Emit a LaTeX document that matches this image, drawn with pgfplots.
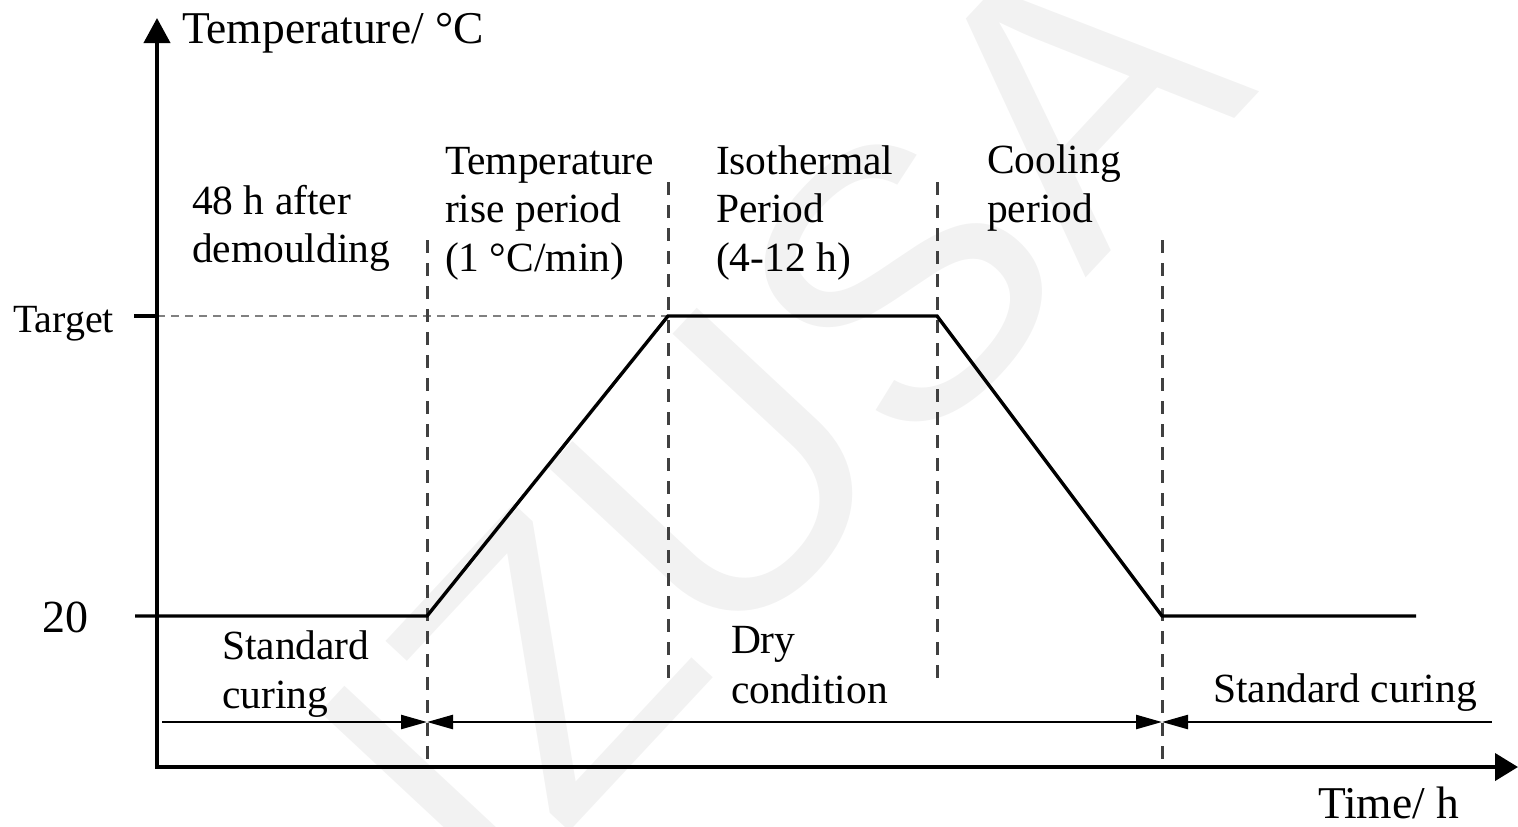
\documentclass[border=0pt]{standalone}
\usepackage{pgfplots}
\pgfplotsset{compat=1.18}
\usepackage{fontspec}
\setmainfont{Liberation Serif}
\newfontfamily\wmfont{Liberation Sans}
\usetikzlibrary{arrows.meta}
\definecolor{dashgray}{RGB}{64,64,64}
\definecolor{tgray}{RGB}{128,128,128}
\definecolor{wm}{RGB}{242,242,242}
\newcommand\ann{\fontsize{20.75pt}{24.5pt}\selectfont}
\newcommand\lab{\fontsize{22.75pt}{27pt}\selectfont}
\tikzset{t/.style={anchor=base west, inner sep=0pt, outer sep=0pt}}
\begin{document}
\begin{tikzpicture}
\begin{axis}[
  width=759pt, height=413pt, scale only axis,
  xmin=0, xmax=1518, ymin=0, ymax=826, y dir=reverse,
  hide axis, clip=false,
]
% watermark
\node[rotate=47, text=wm, inner sep=0pt, font=\wmfont\fontsize{192pt}{192pt}\selectfont, anchor=center] at (axis cs:778,415) {IZUSA};

% target dashed reference line
\addplot[tgray, line width=0.8pt, dash pattern=on 4pt off 3pt, mark=none] coordinates {(157,316) (668,316)};

% vertical dashed period boundaries
\addplot[dashgray, line width=1.5pt, dash pattern=on 6.5pt off 5pt, mark=none] coordinates {(427,240) (427,767)};
\addplot[dashgray, line width=1.5pt, dash pattern=on 6.5pt off 5pt, mark=none] coordinates {(668,182) (668,683)};
\addplot[dashgray, line width=1.5pt, dash pattern=on 6.5pt off 5pt, mark=none] coordinates {(937,182) (937,683)};
\addplot[dashgray, line width=1.5pt, dash pattern=on 6.5pt off 5pt, mark=none] coordinates {(1162,240) (1162,767)};

% temperature profile
\addplot[black, line width=1.7pt, mark=none] coordinates {(135,616) (427,616) (668,316) (937,316) (1162,616) (1416,616)};

% Target tick
\addplot[black, line width=2pt, mark=none] coordinates {(134,316) (157,316)};

% axes
\addplot[black, line width=2pt, mark=none, {Triangle[length=12.5pt,width=13pt]}-{Triangle[length=11.5pt,width=13.5pt]}] coordinates {(157,18) (157,767) (1518,767)};

% duration arrows
\addplot[black, line width=1.2pt, mark=none, -{Triangle[length=13pt,width=7pt]}] coordinates {(162,722) (427,722)};
\addplot[black, line width=1.2pt, mark=none, {Triangle[length=13pt,width=7pt]}-{Triangle[length=13pt,width=7pt]}] coordinates {(427,722) (1162,722)};
\addplot[black, line width=1.2pt, mark=none, {Triangle[length=13pt,width=7pt]}-] coordinates {(1162,722) (1492,722)};

% texts
\node[t, font=\lab] at (axis cs:182,43) {Temperature/ °C};
\node[t, font=\lab] at (axis cs:1318,818) {Time/ h};
\node[t, font=\fontsize{20pt}{24pt}\selectfont] at (axis cs:13,332) {Target};
\node[t, font=\fontsize{23pt}{27pt}\selectfont] at (axis cs:42,632) {20};

\node[t, font=\ann] at (axis cs:192,214) {48 h after};
\node[t, font=\ann] at (axis cs:192,262) {demoulding};
\node[t, font=\ann] at (axis cs:445,174) {Temperature};
\node[t, font=\ann] at (axis cs:445,222) {rise period};
\node[t, font=\ann] at (axis cs:445,271) {(1 °C/min)};
\node[t, font=\ann] at (axis cs:716,174) {Isothermal};
\node[t, font=\ann] at (axis cs:716,222) {Period};
\node[t, font=\ann] at (axis cs:716,271) {(4-12 h)};
\node[t, font=\ann] at (axis cs:987,173) {Cooling};
\node[t, font=\ann] at (axis cs:987,222) {period};
\node[t, font=\ann] at (axis cs:222,659) {Standard};
\node[t, font=\ann] at (axis cs:222,708) {curing};
\node[t, font=\ann] at (axis cs:731,653) {Dry};
\node[t, font=\ann] at (axis cs:731,703) {condition};
\node[t, font=\ann] at (axis cs:1213,702) {Standard curing};
\end{axis}
\pgfresetboundingbox
\path[use as bounding box] (current axis.south west) rectangle (current axis.north east);
\end{tikzpicture}
\end{document}
